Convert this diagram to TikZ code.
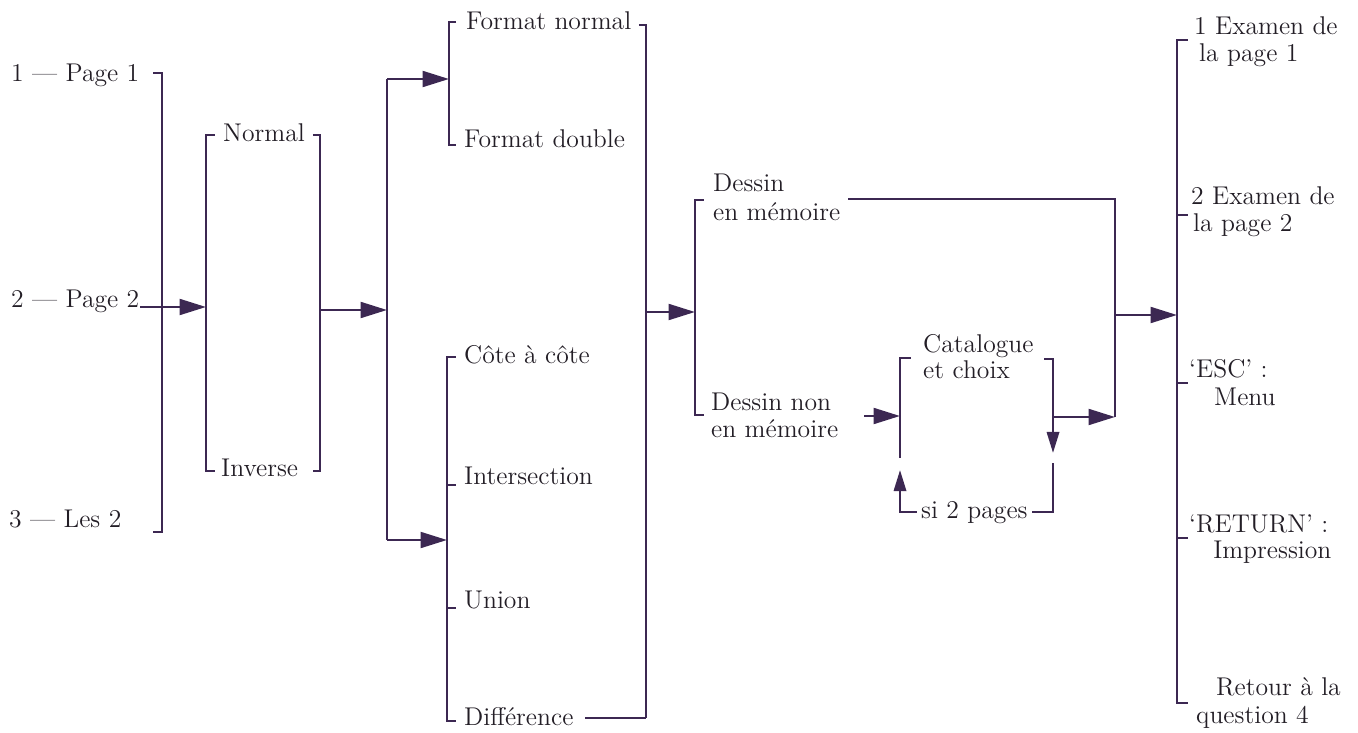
\documentclass[tikz,border=0pt]{standalone}
\usepackage{fontspec}
\usetikzlibrary{arrows.meta}
\definecolor{encre}{RGB}{60,40,82}
\definecolor{texte}{RGB}{35,30,38}

\begin{document}
\begin{tikzpicture}[x=0.02cm, y=-0.02cm, line width=1.4pt, color=encre]
        \tikzstyle{etiquette}=[anchor=base west, inner sep=0, text=texte, font=\fontsize{14.6}{16}\selectfont];
        \tikzstyle{fleche}=[-{Triangle[length=15pt, width=9pt]}];
        \tikzstyle{petite}=[-{Triangle[length=12pt, width=7pt]}];

        \useasboundingbox (0,0) rectangle (1358,733);

        % textes
        \node[etiquette] (p1) at (10,82) {1 — Page 1};
        \node[etiquette] (p2) at (10,307) {2 — Page 2};
        \node[etiquette] (p3) at (8,527) {3 — Les 2};
        \node[etiquette] (nor) at (222,142) {Normal};
        \node[etiquette] (inv) at (220,476) {Inverse};
        \node[etiquette] (fn) at (465,30) {Format normal};
        \node[etiquette] (fdb) at (463,148) {Format double};
        \node[etiquette] (cc) at (463,363) {Côte à côte};
        \node[etiquette] (int) at (463,484) {Intersection};
        \node[etiquette] (uni) at (463,608) {Union};
        \node[etiquette] (dif) at (463,725) {Différence};
        \node[etiquette] (dm1) at (712,192) {Dessin};
        \node[etiquette] (dm2) at (712,220) {en mémoire};
        \node[etiquette] (nm1) at (710,410) {Dessin non};
        \node[etiquette] (nm2) at (710,437) {en mémoire};
        \node[etiquette] (cat1) at (922,352) {Catalogue};
        \node[etiquette] (cat2) at (922,378) {et choix};
        \node[etiquette] (si) at (920,518) {si 2 pages};
        \node[etiquette] (ex1a) at (1193,35) {1 Examen de};
        \node[etiquette] (ex1b) at (1198,62) {la page 1};
        \node[etiquette] (ex2a) at (1190,205) {2 Examen de};
        \node[etiquette] (ex2b) at (1192,232) {la page 2};
        \node[etiquette] (esc1) at (1188,377) {‘ESC’ :};
        \node[etiquette] (esc2) at (1213,405) {Menu};
        \node[etiquette] (ret1) at (1188,532) {‘RETURN’ :};
        \node[etiquette] (ret2) at (1212,558) {Impression};
        \node[etiquette] (rt1) at (1215,695) {Retour à la};
        \node[etiquette] (rt2) at (1195,723) {question 4};

        % accolades
        \coordinate (c1h) at (162,73);   \coordinate (c1b) at (162,532);
        \coordinate (c2h) at (206,135);  \coordinate (c2b) at (206,471);
        \coordinate (c2dh) at (320,135); \coordinate (c2db) at (320,471);
        \coordinate (c3h) at (387,79);   \coordinate (c3b) at (387,540);
        \coordinate (f1) at (449,22);    \coordinate (f2) at (449,145);
        \coordinate (fd) at (646,25);    \coordinate (fb) at (646,718);
        \coordinate (o1) at (447,357);   \coordinate (o2) at (447,485);
        \coordinate (o3) at (447,608);   \coordinate (o4) at (447,721);
        \coordinate (d1) at (695,200);   \coordinate (d2) at (695,415);
        \coordinate (r1) at (1115,199);  \coordinate (r2) at (1115,417);
        \coordinate (k1) at (900,358);   \coordinate (k2) at (900,458);
        \coordinate (k4) at (900,470);   \coordinate (ka) at (900,416);
        \coordinate (k5) at (1053,359);  \coordinate (k6) at (1053,453);
        \coordinate (k7) at (1053,463);  \coordinate (k8) at (1053,417);
        \coordinate (e1) at (1177,40);   \coordinate (e2) at (1177,215);
        \coordinate (e3) at (1177,383);  \coordinate (e4) at (1177,538);
        \coordinate (e5) at (1177,703);

        \draw ([xshift=-5pt]c1h) -- (c1h) -- (c1b) -- ([xshift=-5pt]c1b);
        \draw ([xshift=5pt]c2h) -- (c2h) -- (c2b) -- ([xshift=5pt]c2b);
        \draw ([xshift=-4pt]c2dh) -- (c2dh) -- (c2db) -- ([xshift=-4pt]c2db);
        \draw (c3h) -- (c3b);
        \draw ([xshift=4pt]f1) -- (f1) -- (f2) -- ([xshift=4pt]f2);
        \draw ([xshift=-4pt]fd) -- (fd) -- (fb);
        \draw[shorten <=6pt] (fb -| dif.east) -- (fb);
        \draw ([xshift=5pt]o1) -- (o1) -- (o4) -- ([xshift=5pt]o4);
        \foreach \n in {o2,o3}{
          \draw (\n) -- ++(5pt,0);
        }
        \draw ([xshift=5pt]d1) -- (d1) -- (d2) -- ([xshift=5pt]d2);
        \draw[shorten <=4pt] (r1 -| dm2.east) -- (r1) -- (r2);
        \draw ([xshift=6pt]k1) -- (k1) -- (k2);
        \draw[petite, shorten <=2pt] (si.west) -| (k4);
        \draw[petite] ([xshift=-5pt]k5) -- (k5) -- (k6);
        \draw[shorten <=2pt] (si.east) -| (k7);
        \draw ([xshift=6pt]e1) -- (e1) -- (e5) -- ([xshift=6pt]e5);
        \foreach \n in {e2,e3,e4}{
          \draw (\n) -- ++(6pt,0);
        }

        % fleches
        \draw[fleche] (p2.base east) -- (p2.base east -| c2h);
        \draw[fleche] (320,310) -- (387,310);
        \draw[fleche] (c3h) -- (c3h -| f1);
        \draw[fleche] (c3b) -- (c3b -| o1);
        \draw[fleche] (646,312) -- (695,312);
        \draw[fleche, shorten <=18pt] (ka -| nm1.east) -- (ka);
        \draw[fleche] (k8) -- (r2);
        \draw[fleche] (1115,315) -- (1177,315);
\end{tikzpicture}
\end{document}
